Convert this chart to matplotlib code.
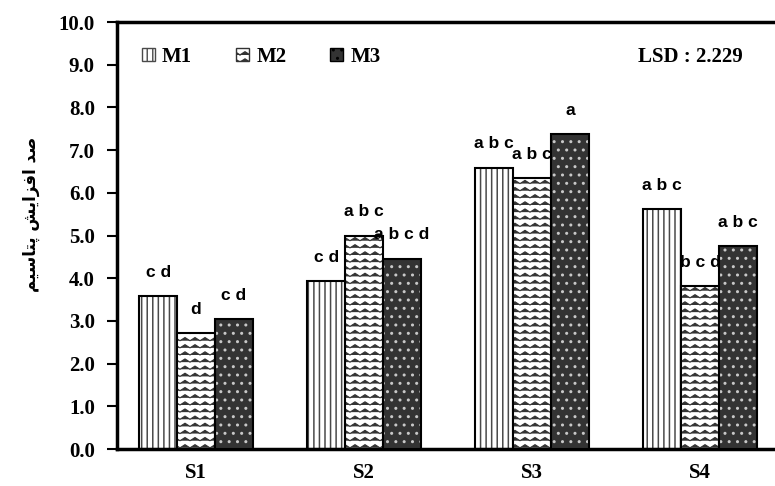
import numpy as np
import matplotlib
matplotlib.use('Agg')
import matplotlib.hatch as mhatch
from matplotlib.path import Path
from matplotlib.patches import Patch
from matplotlib import pyplot as plt

# data
groups = ['S1', 'S2', 'S3', 'S4']
series = ['M1', 'M2', 'M3']
m1 = [3.58, 3.93, 6.59, 5.62]
m2 = [2.72, 5.00, 6.35, 3.82]
m3 = [3.04, 4.46, 7.38, 4.76]
letters_m1 = ['cd', 'cd', 'abc', 'abc']
letters_m2 = ['d', 'abc', 'abc', 'bcd']
letters_m3 = ['cd', 'abcd', 'a', 'abc']
lsd_text = 'LSD : 2.229'
ylabel = 'صد افزایش پتاسیم'


class WaveHatch(mhatch.HatchPatternBase):
    """zigzag rows, used instead of the star hatch ('*')"""
    def __init__(self, hatch, density):
        self.num_rows = hatch.count('*') * 14
        self.periods = 10
        self.num_vertices = self.num_rows * (2 * self.periods + 1)

    def set_vertices_and_codes(self, vertices, codes):
        n = 2 * self.periods + 1
        xs = np.linspace(0.0, 1.0, n)
        amp = 0.032
        for r in range(self.num_rows):
            y0 = (r + 0.3) / self.num_rows
            vertices[r * n:(r + 1) * n, 0] = xs
            vertices[r * n:(r + 1) * n, 1] = y0 + amp * (np.arange(n) % 2)
            codes[r * n] = Path.MOVETO
            codes[r * n + 1:(r + 1) * n] = Path.LINETO


mhatch._hatch_types = [t for t in mhatch._hatch_types if t is not mhatch.Stars] + [WaveHatch]


# minimal arabic/persian shaping (matplotlib has no complex text layout)
FORMS = {
    'ا': ('\uFE8D', '\uFE8E', None, None),
    'د': ('\uFEA9', '\uFEAA', None, None),
    'ز': ('\uFEAF', '\uFEB0', None, None),
    'ص': ('\uFEB9', '\uFEBA', '\uFEBB', '\uFEBC'),
    'ف': ('\uFED1', '\uFED2', '\uFED3', '\uFED4'),
    'ی': ('\uFBFC', '\uFBFD', '\uFEF3', '\uFEF4'),
    'ش': ('\uFEB5', '\uFEB6', '\uFEB7', '\uFEB8'),
    'پ': ('\uFB56', '\uFB57', '\uFB58', '\uFB59'),
    'ت': ('\uFE95', '\uFE96', '\uFE97', '\uFE98'),
    'س': ('\uFEB1', '\uFEB2', '\uFEB3', '\uFEB4'),
    'م': ('\uFEE1', '\uFEE2', '\uFEE3', '\uFEE4'),
}


def shape(txt):
    out = []
    for i, ch in enumerate(txt):
        if ch not in FORMS:
            out.append(ch)
            continue
        prev = txt[i - 1] if i > 0 else ' '
        nxt = txt[i + 1] if i < len(txt) - 1 else ' '
        jp = prev in FORMS and FORMS[prev][2] is not None
        jn = nxt in FORMS and FORMS[ch][2] is not None
        iso, fin, ini, med = FORMS[ch]
        if jp and jn:
            out.append(med)
        elif jp:
            out.append(fin)
        elif jn:
            out.append(ini)
        else:
            out.append(iso)
    return ''.join(out[::-1])


serif = 'Liberation Serif'

fig = plt.figure(figsize=(7.75, 4.86), dpi=100)
ax = fig.add_axes([0.151, 0.0761, 0.849, 0.8786])

x = np.arange(len(groups))
w = 0.225
values = [m1, m2, m3]
letters = [letters_m1, letters_m2, letters_m3]
faces = ['white', 'white', '#333333']
hcols = ['#4a4a4a', '#333333', '#c8c8c8']
hatches = ['|||', '*', '..']
hatch_lw = [1.1, 0.8, 1.0]

handles = []
for i in range(3):
    plt.rcParams['hatch.linewidth'] = hatch_lw[i]
    pos = x + (i - 1) * w
    z = 2 + 2 * i
    ax.bar(pos, values[i], w, color=faces[i], edgecolor=hcols[i], hatch=hatches[i],
           linewidth=0, zorder=z)
    ax.bar(pos, values[i], w, fill=False, edgecolor='black', linewidth=1.5, zorder=z)
    for p, v, t in zip(pos, values[i], letters[i]):
        ax.text(p, v + 0.45, ' '.join(t), ha='center', va='baseline', fontsize=12.5,
                fontweight='bold', family='Liberation Sans', zorder=z + 1)
    handles.append(Patch(facecolor=faces[i], edgecolor='black' if i == 2 else hcols[i],
                         hatch=hatches[i], linewidth=1, label=series[i]))

ax.set_xlim(-0.47, 3.446)
ax.set_ylim(0, 10)
ax.set_yticks(np.arange(0, 11, 1))
ax.set_yticklabels(['%.1f' % t for t in np.arange(0, 11, 1)], family=serif,
                   fontweight='bold', fontsize=15)
ax.set_xticks(x)
ax.set_xticklabels(groups, family=serif, fontweight='bold', fontsize=15)
ax.tick_params(axis='x', length=0, pad=10)
ax.tick_params(axis='y', length=7, width=1.5, direction='out', pad=9)
ax.spines['right'].set_visible(False)
for s in ['left', 'bottom', 'top']:
    ax.spines[s].set_linewidth(2.5)

ax.set_ylabel(shape(ylabel), family=['DejaVu Sans'], fontweight='bold', fontsize=12)
ax.yaxis.set_label_coords(-0.117, 0.55)

ax.legend(handles=handles, ncol=3, frameon=False, loc='center left',
          bbox_to_anchor=(0.0375, 0.919), borderpad=0, borderaxespad=0,
          handlelength=0.62, handleheight=0.62, handletextpad=0.36,
          columnspacing=2.1, prop={'family': serif, 'weight': 'bold', 'size': 15})

ax.text(0.951, 0.919, lsd_text, transform=ax.transAxes, ha='right', va='center',
        family=serif, fontweight='bold', fontsize=15)

fig.savefig('out.png', dpi=100)
